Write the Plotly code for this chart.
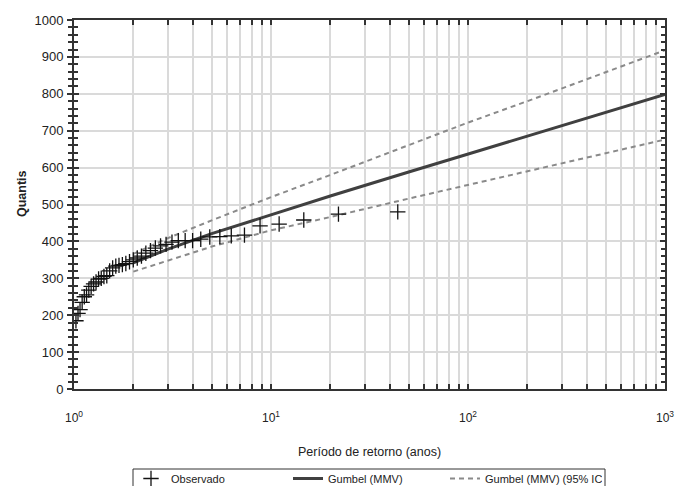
import plotly.graph_objects as go

# Observed data (Weibull plotting positions, years) and quantiles
obs_T = [1.023, 1.048, 1.073, 1.100, 1.128, 1.158, 1.189, 1.222, 1.257, 1.294,
         1.333, 1.375, 1.419, 1.467, 1.517, 1.571, 1.630, 1.692, 1.760, 1.833,
         1.913, 2.000, 2.095, 2.200, 2.316, 2.444, 2.588, 2.750, 2.933, 3.143,
         3.385, 3.667, 4.000, 4.400, 4.889, 5.500, 6.286, 7.333, 8.800, 11.00,
         14.67, 22.00, 44.00]
obs_Q = [185, 205, 215, 235, 250, 255, 268, 278, 285, 290,
         298, 300, 305, 307, 320, 328, 333, 335, 337, 340,
         345, 350, 355, 360, 368, 375, 382, 388, 392, 398,
         402, 402, 402, 406, 412, 413, 415, 417, 442, 447,
         458, 474, 480]

# Fitted Gumbel (MMV) quantiles and 95% confidence interval
fit_T = [2, 3, 5, 10, 20, 50, 100, 200, 500, 1000]
fit_Q = [342, 379, 421, 473, 523, 588, 637, 685, 749, 798]
ci_up = [366, 409, 457, 520, 580, 660, 722, 780, 859, 918]
ci_lo = [318, 349, 386, 430, 466, 516, 553, 591, 640, 676]

x_tickvals = [1, 10, 100, 1000]
x_ticktext = ["10<sup>0</sup>", "10<sup>1</sup>", "10<sup>2</sup>", "10<sup>3</sup>"]
x_minor = [m * d for d in (1, 10, 100) for m in range(2, 10)]

FONT = "Liberation Sans, Arial, sans-serif"
TXT = "#222222"

fig = go.Figure()

fig.add_trace(go.Scatter(
    x=fit_T + [None] + fit_T, y=ci_up + [None] + ci_lo,
    mode="lines", name="Gumbel (MMV) (95% IC)",
    line=dict(color="#8a8a8a", width=2, dash="5px,4px"),
    legendrank=3,
))
fig.add_trace(go.Scatter(
    x=fit_T, y=fit_Q, mode="lines", name="Gumbel (MMV)",
    line=dict(color="#404040", width=3), legendrank=2,
))
fig.add_trace(go.Scatter(
    x=obs_T, y=obs_Q, mode="markers", name="Observado",
    marker=dict(symbol="cross-thin", size=11, line=dict(color="#111111", width=1.3)),
    legendrank=1,
))
# helper trace to anchor the overlay axis (inside ticks)
fig.add_trace(go.Scatter(x=[1], y=[0], yaxis="y2", mode="markers",
                         marker=dict(opacity=0), showlegend=False, hoverinfo="skip"))

# plot area in pixels: x 74..665, y 20..389
def px(x):
    return (x - 74) / 591

def py(y):
    return (389 - y) / 369

grid = "#dadada"
fig.update_layout(
    width=685, height=486,
    margin=dict(l=74, r=20, t=20, b=97, autoexpand=False),
    paper_bgcolor="white", plot_bgcolor="white",
    font=dict(family=FONT, color=TXT),
    showlegend=True,
    legend=dict(
        orientation="h", xref="container", yref="container",
        x=131 / 685, xanchor="left", y=1 - 464 / 486, yanchor="top",
        borderwidth=0, bgcolor="rgba(0,0,0,0)",
        font=dict(family=FONT, size=11, color=TXT),
        entrywidth=112, traceorder="normal",
    ),
    shapes=[
        dict(type="rect", xref="paper", yref="paper",
             x0=px(133), x1=px(605), y0=py(469), y1=py(500),
             line=dict(color="#333333", width=1), fillcolor="rgba(0,0,0,0)",
             layer="above"),
    ],
    xaxis=dict(
        type="log", range=[0, 3],
        tickmode="array", tickvals=x_tickvals, ticktext=x_ticktext,
        ticks="inside", ticklen=5, tickwidth=1.5, tickcolor="#333333",
        showline=True, linecolor="#333333", linewidth=2, mirror="ticks",
        showgrid=True, gridcolor=grid, gridwidth=1.5,
        minor=dict(tickmode="array", tickvals=x_minor, ticks="inside",
                   ticklen=5, tickwidth=1.5, tickcolor="#333333",
                   showgrid=True, gridcolor=grid, gridwidth=1.5),
        tickfont=dict(family=FONT, size=12, color=TXT),
        ticklabelstandoff=17,
        zeroline=False,
    ),
    yaxis=dict(
        range=[0, 1000], dtick=100, tick0=0,
        ticks="outside", ticklen=5, tickwidth=1.5, tickcolor="#333333",
        showline=True, linecolor="#333333", linewidth=2, mirror=True,
        showgrid=True, gridcolor=grid, gridwidth=1.5,
        minor=dict(dtick=20, ticks="outside", ticklen=4, tickwidth=1.5,
                   tickcolor="#333333", showgrid=False),
        tickfont=dict(family=FONT, size=13, color=TXT),
        ticklabelstandoff=1,
        zeroline=False,
    ),
    yaxis2=dict(
        range=[0, 1000], dtick=100, tick0=0, overlaying="y", side="left",
        ticks="inside", ticklen=5, tickwidth=1.5, tickcolor="#333333",
        showline=False, mirror="ticks", showgrid=False, showticklabels=False,
        minor=dict(dtick=20, ticks="inside", ticklen=4, tickwidth=1.5,
                   tickcolor="#333333", showgrid=False),
        zeroline=False,
    ),
    annotations=[
        dict(text="Período de retorno (anos)", xref="paper", yref="paper",
             x=0.5, y=py(452), xanchor="center", yanchor="middle",
             showarrow=False, font=dict(family=FONT, size=12.5, color=TXT)),
        dict(text="<b>Quantis</b>", xref="paper", yref="paper",
             x=px(22.5), y=py(193.5), xanchor="center", yanchor="middle",
             textangle=-90, showarrow=False,
             font=dict(family=FONT, size=12.5, color=TXT)),
    ],
)

fig.write_html(
    "out.html",
    config={"displayModeBar": False},
    post_script="document.body.style.margin='0';document.body.style.overflow='hidden';",
)
